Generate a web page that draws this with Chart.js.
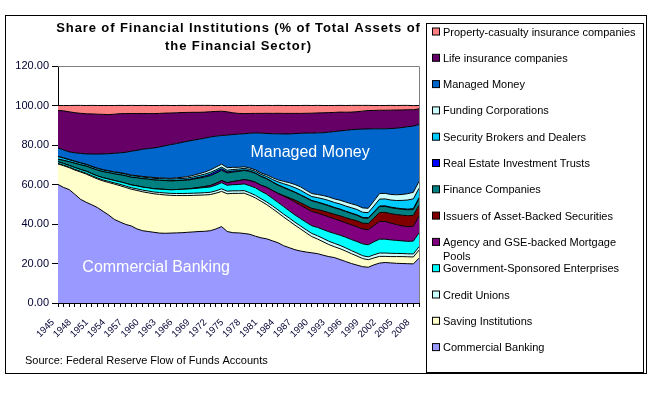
<!DOCTYPE html>
<html>
<head>
<meta charset="utf-8">
<script src="https://cdn.jsdelivr.net/npm/chart.js@4.4.1/dist/chart.umd.min.js"></script>
<style>
  html, body { margin: 0; padding: 0; background: #fff; }
  #wrap { width: 659px; height: 394px; }
</style>
</head>
<body>
<div id="wrap"><canvas id="graf" width="659" height="394"></canvas></div>
<script>
const graf = document.getElementById('graf')

// categories
const anos = [1945,1946,1947,1948,1949,1950,1951,1952,1953,1954,1955,1956,1957,1958,1959,1960,
  1961,1962,1963,1964,1965,1966,1967,1968,1969,1970,1971,1972,1973,1974,1975,1976,1977,1978,1979,1980,
  1981,1982,1983,1984,1985,1986,1987,1988,1989,1990,1991,1992,1993,1994,1995,1996,1997,1998,1999,2000,
  2001,2002,2003,2004,2005,2006,2007,2008,2009]
// tick labels shown on the x axis
const anosMostrados = [1945,1948,1951,1954,1957,1960,1963,1966,1969,1972,1975,1978,1981,1984,1987,
  1990,1993,1996,1999,2002,2005,2008]
const yTicks = [0, 20, 40, 60, 80, 100, 120]

// shares (% of total assets), bottom layer first
const commercialBanking = [60,58.5,57.4,55,52.5,51,49.7,48.3,46.4,44.5,42.3,41,39.8,39,37.5,36.6,36.2,35.8,35.4,35.3,
  35.4,35.5,35.6,35.8,36,36.2,36.3,36.6,37.5,38.7,36.2,35.6,35.5,35.2,34.8,33.8,33,32.5,31.5,30.5,
  29,28,27,26.3,25.8,25.4,25,24.2,23.5,23,22,21,20,19.2,18.4,18.1,19.3,20.2,20.5,20.3,20.1,20,19.9,19.8,22.7]
const savingInst = [10.4,11,11.1,12.3,13.8,14.3,14.3,14.5,15.4,16.5,17.9,18.4,18.7,18.6,19.5,19.7,19.6,19.5,19.6,19.4,
  19.1,18.9,18.8,18.6,18.5,18.4,18.4,18.3,18.1,17.8,19.1,19.9,20,20.4,19.7,19.4,18.5,17.3,16.3,15.2,
  14.5,13.5,12.4,11.2,9.7,8.2,7.4,6.8,6.1,5.5,5.5,5.3,5,4.6,4.1,3.8,3.5,3.4,3.1,3.2,3.4,3.5,3.5,3.5,4.1]
const creditUnions = [0.3,0.3,0.3,0.35,0.4,0.4,0.45,0.5,0.5,0.55,0.6,0.65,0.7,0.75,0.8,0.85,0.9,0.9,0.95,1,
  1,1.05,1.05,1.1,1.1,1.1,1.15,1.15,1.2,1.3,1.3,1.3,1.3,1.3,1.3,1.3,1.3,1.35,1.4,1.45,
  1.5,1.5,1.5,1.5,1.55,1.6,1.65,1.7,1.7,1.7,1.65,1.6,1.55,1.5,1.45,1.45,1.6,1.7,1.7,1.65,1.6,1.55,1.5,1.55,1.7]
const gse = [0.8,0.8,0.8,0.9,0.9,1,1,1,1.1,1.15,1.2,1.3,1.4,1.4,1.5,1.5,1.6,1.6,1.7,1.8,
  1.8,2,2.1,2.2,2.3,2.5,2.6,2.7,2.9,3.1,3,3.1,3.2,3.4,3.6,3.8,3.8,3.9,3.8,3.8,
  3.8,3.7,3.7,3.7,3.8,3.9,4.2,4.5,4.8,5,5.2,5.4,5.6,5.8,6,6.1,6.6,7,7,6.8,6.6,6.4,6.3,6.5,7]
const agencyPools = [0,0,0,0,0,0,0,0,0,0,0,0,0,0,0,0,0,0,0,0,
  0,0,0,0,0.2,0.3,0.5,0.7,0.9,1.1,1.3,1.6,1.9,2.2,2.6,2.8,3,3.5,4,4.5,
  5.3,6,6.5,6.8,7,7.2,7.3,7.4,7.5,7.4,7.3,7.3,7.4,7.5,7.5,7.6,8.2,9,9,8.5,8,7.6,7.4,7.5,8.5]
const absIssuers = [0,0,0,0,0,0,0,0,0,0,0,0,0,0,0,0,0,0,0,0,
  0,0,0,0,0,0,0,0,0,0,0,0,0,0,0,0,0,0,0,0.1,
  0.3,0.6,1,1.3,1.5,1.6,1.8,2,2.2,2.3,2.5,2.6,2.8,3,3,3.2,3.8,4.5,4.6,4.8,5.1,5.4,5.6,5.5,5.5]
const financeCos = [1.3,1.6,1.9,2.2,2.4,2.6,2.8,3,3.1,3.3,3.4,3.6,3.8,3.9,4.1,4.3,4.4,4.5,4.5,4.5,
  4.5,4.5,4.5,4.5,4.6,4.7,4.8,5,5.1,5.2,4.9,4.8,4.7,4.6,4.6,4.5,4.4,4.3,4.2,4.1,
  4,3.9,3.9,3.8,3.8,3.8,3.6,3.5,3.4,3.3,3.2,3.1,3,2.8,2.6,2.6,2.8,3,3,3,3,3,3,3,3.4]
const reits = [0,0,0,0,0,0,0,0,0,0,0,0,0,0,0,0,0,0,0.05,0.05,
  0.1,0.15,0.2,0.3,0.35,0.45,0.6,0.8,0.9,0.8,0.6,0.5,0.4,0.3,0.25,0.2,0.2,0.2,0.2,0.2,
  0.2,0.2,0.2,0.2,0.2,0.2,0.2,0.2,0.2,0.2,0.2,0.2,0.2,0.25,0.3,0.3,0.3,0.3,0.3,0.3,0.3,0.3,0.35,0.4,0.4]
const brokers = [1.3,1.1,1,0.9,0.85,0.8,0.8,0.8,0.8,0.8,0.8,0.8,0.8,0.8,0.8,0.8,0.8,0.8,0.8,0.8,
  0.8,0.8,0.8,0.8,0.8,0.9,0.9,0.9,0.8,0.8,0.8,0.8,0.8,0.8,0.8,0.9,0.9,1,1.2,1.5,
  1.8,2.1,2.2,2.3,2.1,2,2.2,2.4,2.5,2.5,2.6,2.6,2.7,2.7,2.6,2.6,3,3.5,3.5,3.6,3.8,4.2,4.6,5,4.8]
const fundingCorps = [0.2,0.2,0.2,0.2,0.2,0.2,0.2,0.2,0.2,0.2,0.2,0.3,0.3,0.3,0.3,0.3,0.4,0.4,0.4,0.4,
  0.4,0.5,0.6,0.7,0.8,0.9,1,1.2,1.4,1.5,1.3,1.1,0.9,0.8,0.7,0.7,0.7,0.8,0.9,1,
  1.2,1.4,1.6,1.7,1.6,1.5,1.6,1.7,1.8,1.8,1.9,2,2,2.1,2.2,2.2,2.5,2.8,2.8,2.8,2.9,3,3.2,3.3,3.5]
const managedMoney = [4.2,4,3.8,4.2,4.7,5.2,6.2,7.1,8,8.6,9.4,10,10.8,12.1,12.8,13.8,14.3,15,15.6,16.4,
  17.1,17.3,17.7,17.9,17.8,17.5,17.2,16.7,15.7,14.5,16.5,16.6,16.8,16.7,17.6,18.7,20.2,21,22.2,23.3,
  24,24.7,25.8,27.1,29,30.6,31.2,31.8,32.8,34.1,35.1,36.3,37.5,38.5,39.9,40.2,36.6,32.8,32.7,33.4,33.7,33.9,33.9,33.5,28.8]
const lifeIns = [19,19.8,20.3,20.3,20.3,20.3,20.3,20.2,20,19.8,19.8,19.8,19.6,19.1,18.6,18.1,17.7,17.4,17,16.5,
  16,15.6,15.1,14.6,14.1,13.6,13.2,12.8,12.5,12.3,11.8,11,10.5,10.2,10,9.9,10,10.2,10.3,10.4,
  10.4,10.4,10.2,10.1,10,10.1,10.1,10.1,9.9,9.7,9.5,9.2,8.9,8.9,9.1,9.3,9.3,9.4,9.4,9.3,9.2,8.9,8.6,8.3,7.9]
const propCasualty = [2.5,2.7,3.2,3.7,4,4.2,4.3,4.4,4.5,4.6,4.4,4.2,4.1,4.1,4.1,4.1,4.1,4.1,4,3.9,
  3.8,3.7,3.6,3.5,3.5,3.5,3.4,3.2,3,2.9,3.2,3.7,4,4.1,4.1,4,4,4,4,4,
  4,4,4,4,4,3.9,3.8,3.7,3.6,3.5,3.4,3.4,3.4,3.2,2.9,2.6,2.5,2.4,2.4,2.4,2.3,2.3,2.2,2.1,1.7]

const series = [
  ['Commercial Banking', commercialBanking, '#9999FF'],
  ['Saving Institutions', savingInst, '#FFFFCC'],
  ['Credit Unions', creditUnions, '#CCFFFF'],
  ['Government-Sponsored Enterprises', gse, '#00FFFF'],
  ['Agency and GSE-backed Mortgage Pools', agencyPools, '#800080'],
  ['Issuers of Asset-Backed Securities', absIssuers, '#800000'],
  ['Finance Companies', financeCos, '#008080'],
  ['Real Estate Investment Trusts', reits, '#0000FF'],
  ['Security Brokers and Dealers', brokers, '#00CCFF'],
  ['Funding Corporations', fundingCorps, '#CCFFFF'],
  ['Managed Money', managedMoney, '#0066CC'],
  ['Life insurance companies', lifeIns, '#660066'],
  ['Property-casualty insurance companies', propCasualty, '#FF8080']
]

const FONTE = '"Liberation Sans", Arial, sans-serif'
const AZUL_TXT = '#000033'

const moldura = {
  id: 'moldura',
  beforeDraw(chart) {
    const c = chart.ctx
    c.save()
    c.fillStyle = '#fff'
    c.fillRect(0, 0, chart.width, chart.height)
    c.restore()
  },
  afterDraw(chart) {
    const c = chart.ctx
    const a = chart.chartArea
    const sx = chart.scales.x, sy = chart.scales.y
    c.save()

    // plot border top and right
    c.strokeStyle = '#808080'
    c.lineWidth = 1
    c.beginPath()
    c.moveTo(a.left, a.top + 0.5)
    c.lineTo(a.right + 0.5, a.top + 0.5)
    c.lineTo(a.right + 0.5, a.bottom)
    c.stroke()

    // outer frame and legend frame
    c.strokeStyle = '#000'
    c.strokeRect(5.5, 15.5, 641, 358)
    c.strokeRect(426.5, 23.5, 217, 349)

    // title
    c.fillStyle = '#000'
    c.font = 'bold 13px ' + FONTE
    c.letterSpacing = '0.9px'
    c.textAlign = 'center'
    c.textBaseline = 'middle'
    const cx = (a.left + a.right) / 2
    c.fillText('Share of Financial Institutions (% of Total Assets of', cx, 28)
    c.fillText('the Financial Sector)', cx, 46)
    c.letterSpacing = '0px'

    // source
    c.font = '11px ' + FONTE
    c.textAlign = 'left'
    c.fillText('Source: Federal Reserve Flow of Funds Accounts', 25, 361)

    // labels inside the areas
    c.fillStyle = '#fff'
    c.font = '16px ' + FONTE
    c.textAlign = 'center'
    c.fillText('Managed Money', sx.getPixelForValue(44.7), sy.getPixelForValue(76))
    c.fillText('Commercial Banking', sx.getPixelForValue(17.4), sy.getPixelForValue(18))

    // legend, top layer first
    c.font = '11px ' + FONTE
    c.textAlign = 'left'
    const itens = chart.data.datasets.slice().reverse()
    let y = 31.5
    itens.forEach(ds => {
      c.fillStyle = ds.backgroundColor
      c.fillRect(432, y - 3.5, 7, 7)
      c.strokeStyle = '#000'
      c.strokeRect(432.5, y - 3.5, 7, 7)
      c.fillStyle = '#000'
      if (ds.label.startsWith('Agency')) {
        c.fillText('Agency and GSE-backed Mortgage', 443, y + 1)
        c.fillText('Pools', 443, y + 15)
      } else {
        c.fillText(ds.label, 443, y + 1)
      }
      y += 26.3
    })
    c.restore()
  }
}

new Chart(graf, {
  type: 'line',
  data: {
    labels: anos,
    datasets: series.map((s, i) => ({
      label: s[0],
      data: s[1],
      backgroundColor: s[2],
      borderColor: '#000',
      borderWidth: 1,
      pointRadius: 0,
      tension: 0,
      fill: i === 0 ? 'origin' : '-1'
    }))
  },
  options: {
    responsive: false,
    animation: false,
    events: [],
    layout: { padding: { left: 8, right: 240, top: 66, bottom: 0 } },
    plugins: {
      legend: { display: false },
      tooltip: { enabled: false },
      title: { display: false }
    },
    scales: {
      x: {
        offset: false,
        grid: { drawOnChartArea: false, drawTicks: true, tickLength: 4, color: '#000' },
        border: { color: '#000', width: 1 },
        ticks: {
          autoSkip: false,
          minRotation: 45,
          maxRotation: 45,
          padding: 10,
          labelOffset: -5,
          color: AZUL_TXT,
          font: { family: FONTE, size: 9.5 },
          callback: (v, idx) => anosMostrados.includes(anos[idx]) ? String(anos[idx]) : ''
        },
        afterFit: s => { s.height = 91 }
      },
      y: {
        stacked: true,
        min: 0,
        max: 120,
        afterBuildTicks: s => { s.ticks = yTicks.map(v => ({ value: v })) },
        grid: { drawOnChartArea: false, drawTicks: true, tickLength: 6, color: '#000' },
        border: { color: '#000', width: 1 },
        ticks: {
          padding: 3,
          color: AZUL_TXT,
          font: { family: FONTE, size: 11 },
          callback: v => Number(v).toFixed(2)
        },
        afterFit: s => { s.width = 50 }
      }
    }
  },
  plugins: [moldura]
})
</script>
</body>
</html>
